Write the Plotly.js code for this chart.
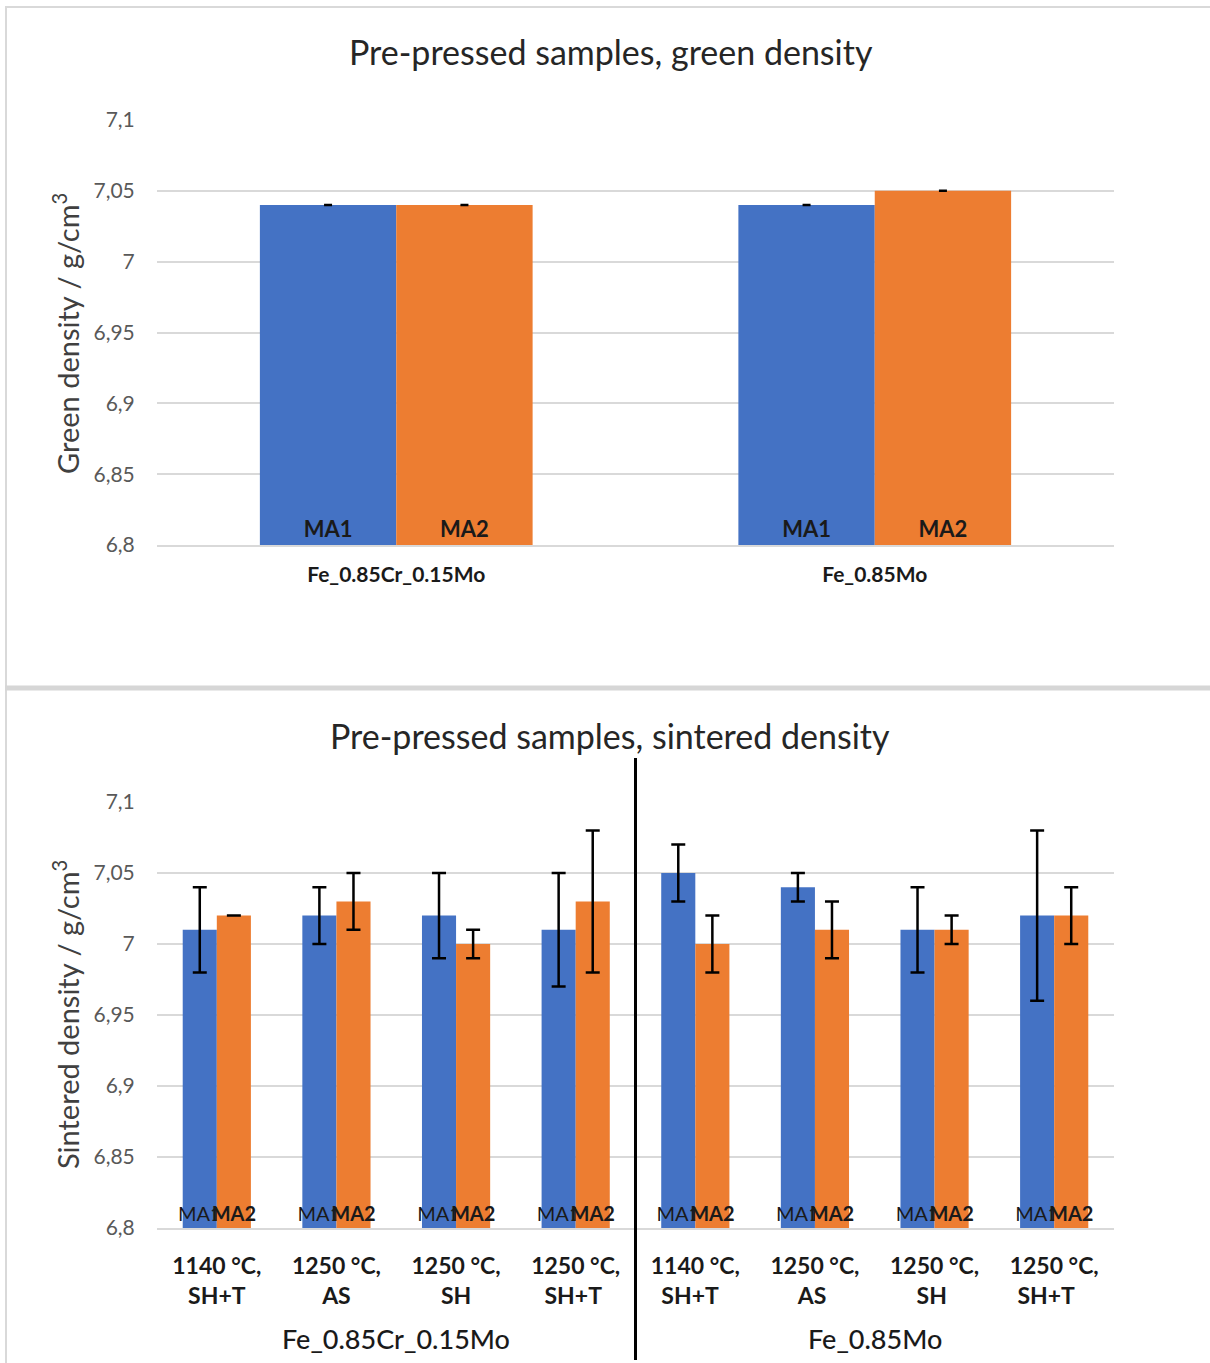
<!DOCTYPE html>
<html><head><meta charset="utf-8">
<script src="https://cdn.plot.ly/plotly-3.0.1.min.js"></script>
<style>html,body{margin:0;padding:0;background:#fff;}#chart{width:1210px;height:1363px;}</style>
</head><body><div id="chart"></div>
<script>
// ---- data ----
const greenCategories = ["Fe_0.85Cr_0.15Mo", "Fe_0.85Mo"];
const greenMA1 = [7.04, 7.04];
const greenMA2 = [7.04, 7.05];
const greenErrMA1 = [0, 0];
const greenErrMA2 = [0, 0];

const sinterCategories = ["1140 °C,<br>SH+T", "1250 °C,<br>AS", "1250 °C,<br>SH", "1250 °C,<br>SH+T ",
                          "1140 °C,<br>SH+T  ", "1250 °C,<br>AS ", "1250 °C,<br>SH ", "1250 °C,<br>SH+T   "];
const sinterMA1 = [7.01, 7.02, 7.02, 7.01, 7.05, 7.04, 7.01, 7.02];
const sinterMA2 = [7.02, 7.03, 7.00, 7.03, 7.00, 7.01, 7.01, 7.02];
const sinterErrMA1 = [0.03, 0.02, 0.03, 0.04, 0.02, 0.01, 0.03, 0.06];
const sinterErrMA2 = [0.00, 0.02, 0.01, 0.05, 0.02, 0.02, 0.01, 0.02];
const alloyGroups = ["Fe_0.85Cr_0.15Mo", "Fe_0.85Mo"];
const alloyGroupCenters = [1.5, 5.5];
const seriesNames = ["MA1", "MA2"];
const yTickVals = [6.8, 6.85, 6.9, 6.95, 7, 7.05, 7.1];
const yTickText = ["6,8", "6,85", "6,9", "6,95", "7", "7,05", "7,1"];
const yFloor = 6.8;

// ---- style ----
const FONT = "Lato, 'Open Sans', sans-serif";
const BLUE = "#4472C4", ORANGE = "#ED7D31", GRID = "#D9D9D9";
const W = 1210, H = 1363;
const px = v => v / W, py = v => 1 - v / H;

function barTrace(x, y, err, name, color, xa, ya, capw, bold, size) {
  return {
    type: "bar", x: x, y: y.map(v => v - yFloor), base: yFloor, name: name, xaxis: xa, yaxis: ya,
    marker: {color: color},
    text: x.map(() => name),
    textposition: "inside", insidetextanchor: "start", constraintext: "none", textangle: 0,
    insidetextfont: {family: FONT, size: size, color: "#1a1a1a", weight: bold ? "bold" : "normal"},
    error_y: {type: "data", array: err, visible: true, color: "#000", thickness: 2.5, width: capw},
    hoverinfo: "skip", showlegend: false
  };
}

const traces = [
  barTrace(greenCategories, greenMA1, greenErrMA1, seriesNames[0], BLUE, "x", "y", 4, true, 22),
  barTrace(greenCategories, greenMA2, greenErrMA2, seriesNames[1], ORANGE, "x", "y", 4, true, 22),
  barTrace(sinterCategories, sinterMA1, sinterErrMA1, seriesNames[0], BLUE, "x2", "y2", 7, false, 20),
  barTrace(sinterCategories, sinterMA2, sinterErrMA2, seriesNames[1], ORANGE, "x2", "y2", 7, true, 20)
];

const yAxisCommon = {
  range: [6.8, 7.1], tickvals: yTickVals, ticktext: yTickText,
  showgrid: true, gridcolor: GRID, gridwidth: 2, zeroline: false, showline: false,
  ticks: "outside", ticklen: 17, tickcolor: "rgba(0,0,0,0)",
  tickfont: {family: FONT, size: 21, color: "#595959"}
};
const xDomain = [px(157), px(1114)];

function ann(text, x, y, size, extra) {
  return Object.assign({text: text, xref: "paper", yref: "paper", x: x, y: y,
    xanchor: "center", yanchor: "middle", showarrow: false,
    font: {family: FONT, size: size, color: "#262626"}}, extra || {});
}

const layout = {
  width: W, height: H, margin: {l: 0, r: 0, t: 0, b: 0},
  paper_bgcolor: "#fff", plot_bgcolor: "#fff",
  barmode: "group", bargap: 0.43, bargroupgap: 0,
  showlegend: false,
  font: {family: FONT, color: "#000"},
  xaxis: {domain: xDomain, anchor: "y", type: "category", showgrid: false, zeroline: false,
          showline: true, linecolor: GRID, linewidth: 2,
          ticks: "outside", ticklen: 10, tickcolor: "rgba(0,0,0,0)",
          tickfont: {family: FONT, size: 21, color: "#1a1a1a", weight: "bold"}},
  yaxis: Object.assign({domain: [py(545), py(120)], anchor: "x"}, yAxisCommon),
  xaxis2: {domain: xDomain, anchor: "y2", type: "category", showgrid: false, zeroline: false,
           showline: true, linecolor: GRID, linewidth: 2,
           ticks: "outside", ticklen: 16, tickcolor: "rgba(0,0,0,0)",
           tickfont: {family: FONT, size: 23, color: "#1a1a1a", weight: "bold"}},
  yaxis2: Object.assign({domain: [py(1228), py(802)], anchor: "x2"}, yAxisCommon),
  annotations: [
    ann("Pre-pressed samples, green density", px(611), py(52), 34),
    ann("Pre-pressed samples, sintered density", px(610), py(735), 34),
    ann("Green density / g/cm<sup>3</sup>", px(66), py(334), 29, {textangle: -90, font: {family: FONT, size: 29, color: "#404040"}}),
    ann("Sintered density / g/cm<sup>3</sup>", px(66), py(1015), 29, {textangle: -90, font: {family: FONT, size: 29, color: "#404040"}})
  ].concat(alloyGroups.map((g, i) => ({
     text: g, xref: "x2", yref: "paper", x: alloyGroupCenters[i], y: py(1338),
     xanchor: "center", yanchor: "middle",
     showarrow: false, font: {family: FONT, size: 27, color: "#1a1a1a", weight: 500}}))),
  shapes: [
    {type: "line", xref: "paper", yref: "paper", x0: px(5), x1: px(1210), y0: py(7), y1: py(7),
     line: {color: "#D9D9D9", width: 2}},
    {type: "line", xref: "paper", yref: "paper", x0: px(6), x1: px(6), y0: py(7), y1: py(1363),
     line: {color: "#D9D9D9", width: 2}},
    {type: "line", xref: "paper", yref: "paper", x0: px(5), x1: px(1210), y0: py(688), y1: py(688),
     line: {color: "#D6D6D6", width: 5}},
    {type: "line", xref: "x2", yref: "paper", x0: 3.5, x1: 3.5, y0: py(758), y1: py(1360),
     line: {color: "#000", width: 3}}
  ]
};

Plotly.newPlot("chart", traces, layout, {staticPlot: true, displayModeBar: false});
</script></body></html>
